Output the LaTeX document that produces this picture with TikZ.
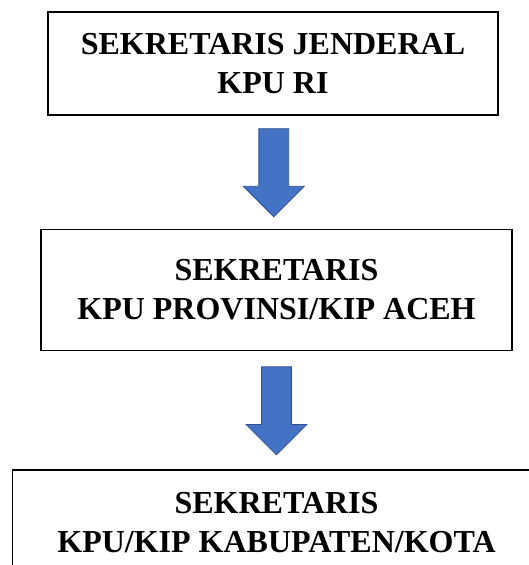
\documentclass[tikz,border=0pt]{standalone}
\usepackage{fontspec}
\setmainfont{Liberation Serif}
\usepackage{tikz}
\usetikzlibrary{shapes,arrows,positioning,calc}
\definecolor{kpublue}{RGB}{68,114,196}
\definecolor{kpuedge}{RGB}{47,82,143}
\tikzset{
    box/.style={rectangle, draw, line width=1.6pt, align=center, inner sep=0pt, font=\fontsize{32}{39}\selectfont\bfseries},
    downarrow/.style={single arrow, draw=kpuedge, fill=kpublue, line width=0.8pt, shape border rotate=270, minimum height=88pt, minimum width=60pt, single arrow head extend=15.5pt, inner sep=14.5pt, anchor=tip}
}

\begin{document}
\begin{tikzpicture}[x=1pt, y=1pt]
    \useasboundingbox (0,0) rectangle (529,-565);
    \clip (0,0) rectangle (529,-565);

    % Sekretaris Jenderal
    \node [box, minimum width=450pt, minimum height=103pt] (sekjen) at (273,-63.5) {SEKRETARIS JENDERAL\\KPU RI};

    % Provinsi
    \node [box, minimum width=471pt, minimum height=121pt, below=113pt of sekjen, xshift=3.5pt] (provinsi) {SEKRETARIS\\KPU PROVINSI/KIP ACEH};

    % Kabupaten/Kota
    \node [box, minimum width=528pt, minimum height=105pt, below=118pt of provinsi] (kabkota) {SEKRETARIS\\KPU/KIP KABUPATEN/KOTA};

    % Arrows
    \node [downarrow] (arrow1) at ($(sekjen.south)!0.5!(provinsi.north)+(-1,-45)$) {};
    \node [downarrow] (arrow2) at ($(provinsi.south)!0.5!(kabkota.north)+(0,-45)$) {};
\end{tikzpicture}
\end{document}
